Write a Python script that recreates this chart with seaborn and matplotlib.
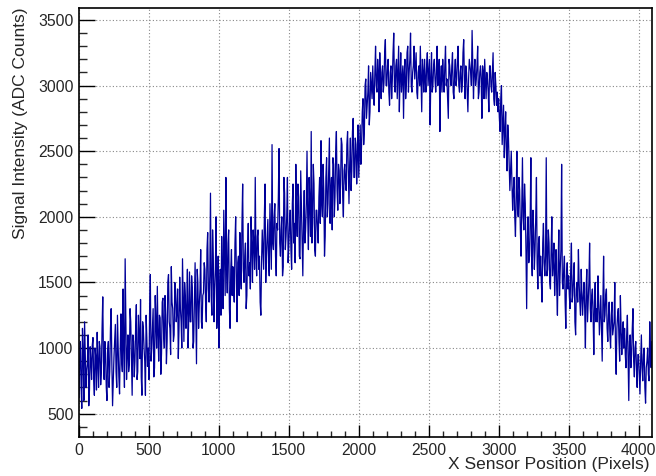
import numpy as np
import pandas as pd
import matplotlib
matplotlib.use("Agg")
import matplotlib.pyplot as plt
from matplotlib.ticker import MultipleLocator
import seaborn as sns

# sensor positions: readings every 10 pixels, plus the ones halfway between
positions = list(range(0, 4100, 10))
positions_mid = list(range(5, 4100, 10))

# ADC counts, 10 readings per row (100 pixels)
counts = [
    620, 1050, 540, 980, 1200, 700, 880, 560, 1010, 760,
    1080, 640, 930, 1120, 700, 1010, 820, 1390, 760, 960,
    600, 1050, 820, 1300, 560, 930, 1180, 700, 1020, 650,
    1260, 820, 1000, 1680, 760, 1100, 880, 1200, 640, 1050,
    900, 1330, 820, 1100, 1370, 640, 1150, 900, 1250, 860,
    760, 1560, 1000, 1300, 850, 1180, 1470, 900, 1230, 960,
    1380, 1000, 1250, 1050, 1560, 1150, 1620, 1300, 1100, 1450,
    1280, 920, 1540, 1200, 1680, 1050, 1400, 1300, 1000, 1580,
    1200, 1460, 1050, 1650, 880, 1500, 1330, 1750, 1150, 1420,
    1600, 1200, 1880, 1350, 2180, 1250, 1700, 1450, 2000, 1300,
    1000, 1600, 1850, 1300, 1700, 2300, 1420, 1900, 1150, 1750,
    1620, 1350, 2000, 1200, 1700, 1880, 1450, 2250, 1500, 1800,
    1400, 1950, 1650, 2000, 1500, 1800, 2300, 1550, 1900, 1700,
    1250, 1900, 1600, 2250, 1700, 1980, 1550, 1850, 2550, 1750,
    2100, 1550, 1900, 2520, 1700, 2000, 1620, 2180, 1850, 2300,
    1780, 2050, 1600, 2250, 1950, 2400, 1850, 2150, 1680, 2080,
    1550, 2200, 1900, 2500, 1750, 2100, 2650, 1950, 2250, 1700,
    2050, 1800, 2300, 2580, 2000, 2200, 1850, 2450, 2100, 2600,
    2200, 1900, 2400, 2150, 2650, 2050, 2350, 2250, 2550, 2000,
    2400, 2200, 2650, 2100, 2600, 2350, 2750, 2300, 2550, 2450,
    2300, 2700, 2550, 2900, 2650, 3050, 2850, 3150, 2800, 3000,
    3150, 2850, 3300, 2950, 3100, 3250, 2900, 3150, 3020, 3350,
    3000, 3200, 2850, 3150, 3050, 3400, 2950, 3200, 3100, 2800,
    3250, 3050, 2750, 3200, 3000, 3300, 3100, 3400, 2950, 3150,
    3050, 3250, 2900, 3150, 3300, 2800, 3100, 3200, 2950, 3250,
    3100, 2700, 3250, 3000, 3200, 2950, 3300, 3050, 2650, 3150,
    3200, 2950, 3300, 3050, 2750, 3150, 3000, 3250, 2900, 3200,
    3050, 3300, 2950, 3150, 3000, 3350, 2900, 3100, 2800, 3200,
    3100, 3420, 2900, 3200, 3050, 3300, 2950, 3150, 2750, 3100,
    3200, 2900, 3050, 2800, 3150, 2950, 3250, 2850, 3000, 2950,
    2900, 2650, 3000, 2700, 2450, 2800, 2350, 2600, 2200, 2500,
    2050, 2300, 1850, 2500, 2000, 2200, 1700, 2450, 1900, 2100,
    1300, 2000, 1700, 2450, 1550, 1900, 1750, 2300, 1450, 1850,
    1700, 1350, 1950, 1550, 2450, 1600, 1800, 1450, 2000, 1650,
    1400, 1750, 1250, 1900, 1600, 2400, 1450, 1700, 1150, 1650,
    1550, 1300, 1800, 1400, 1650, 1100, 1500, 1750, 1350, 1600,
    1250, 1500, 1000, 1600, 1350, 1800, 1200, 1450, 950, 1500,
    1300, 1550, 1100, 1400, 900, 1700, 1250, 1450, 1050, 1350,
    1000, 1350, 1150, 1500, 800, 1250, 1050, 1400, 950, 1200,
    1150, 850, 1250, 600, 1100, 950, 1300, 780, 1050, 700,
    950, 650, 1100, 750, 1000, 580, 900, 800, 1200, 850,
]

counts_mid = [
    900, 720, 1150, 600, 950, 830, 1100, 680, 900, 1020,
    760, 1000, 680, 880, 1050, 720, 1150, 900, 1050, 700,
    980, 700, 1150, 880, 760, 1060, 820, 1250, 780, 1000,
    900, 1450, 700, 1200, 950, 820, 1300, 940, 1100, 780,
    1150, 760, 1250, 920, 780, 1200, 1000, 640, 1080, 1000,
    1300, 900, 1150, 780, 1400, 1000, 1100, 1250, 800, 1350,
    1100, 1400, 880, 1500, 1200, 950, 1350, 1050, 1500, 1200,
    1450, 1150, 1300, 1000, 1350, 1500, 1150, 1600, 1250, 1200,
    1550, 1000, 1350, 1250, 1600, 1150, 1450, 1200, 1400, 1650,
    1350, 1750, 1450, 1550, 1400, 1900, 1200, 1600, 1150, 1700,
    1450, 1250, 1550, 2050, 1400, 1600, 1800, 1300, 1600, 1400,
    1450, 1800, 1550, 1650, 1400, 1550, 1950, 1600, 1700, 1300,
    1750, 1550, 1450, 1800, 1900, 1600, 1700, 1850, 1600, 1350,
    1650, 1750, 2000, 1500, 1850, 1650, 2100, 1600, 1800, 2000,
    1700, 1950, 2150, 1800, 1900, 1550, 2300, 1750, 2000, 1650,
    1950, 1750, 2100, 1800, 1650, 2000, 2250, 1700, 2350, 1850,
    1950, 1800, 2100, 2000, 2300, 1850, 1800, 2400, 1750, 2050,
    1900, 2150, 1950, 2100, 2400, 1700, 2300, 2000, 2350, 1950,
    2300, 2450, 2000, 2500, 2200, 2400, 2100, 2600, 2150, 2350,
    2250, 2550, 2350, 2400, 2200, 2650, 2300, 2600, 2250, 2700,
    2500, 2400, 2800, 2550, 3000, 2750, 2950, 2700, 3100, 2900,
    2950, 3100, 3000, 3200, 2800, 3050, 3100, 2950, 3250, 3000,
    3150, 2950, 3100, 2900, 3250, 3000, 3150, 2900, 3300, 3050,
    2950, 3150, 3100, 2900, 3250, 2950, 3200, 3000, 3100, 3300,
    3150, 2950, 3100, 3000, 3050, 3200, 2950, 3050, 3150, 3000,
    3200, 3050, 2950, 3150, 3050, 3100, 3000, 3200, 3050, 2950,
    3050, 3150, 3000, 2900, 3200, 3050, 3150, 2950, 3100, 3000,
    3200, 3000, 3100, 2950, 3250, 3050, 3150, 2950, 3050, 3150,
    3000, 3150, 3100, 3000, 3150, 2900, 3100, 3050, 3150, 2900,
    3050, 3100, 2950, 3150, 3000, 3100, 2900, 3100, 2850, 2800,
    2750, 2900, 2550, 2850, 2650, 2500, 2700, 2400, 2350, 2250,
    2200, 2000, 2150, 2050, 2300, 1900, 2100, 2000, 2250, 1750,
    1850, 1650, 1950, 1700, 2050, 1600, 2000, 1650, 1800, 1550,
    1500, 1800, 1650, 1700, 1550, 1900, 1500, 1750, 1550, 1800,
    1600, 1450, 1650, 1400, 1750, 1500, 1600, 1350, 1550, 1450,
    1400, 1600, 1350, 1550, 1200, 1450, 1350, 1500, 1250, 1400,
    1400, 1300, 1450, 1200, 1500, 1300, 1400, 1250, 1350, 1200,
    1200, 1350, 1250, 1150, 1350, 1200, 1400, 1150, 1250, 1100,
    1250, 1100, 1200, 1000, 1150, 1300, 900, 1150, 1100, 1000,
    950, 1100, 900, 1050, 850, 1150, 900, 1000, 850, 950,
    800, 900, 850, 950, 700, 850, 1000, 750, 950, 1050,
]

df = pd.DataFrame({"pos": positions + positions_mid,
                   "adc": counts + counts_mid})
df = df.sort_values("pos").reset_index(drop=True)

sns.set_style("white")
plt.rcParams["font.family"] = ["Liberation Sans", "DejaVu Sans"]

fig = plt.figure(figsize=(6.56, 4.76), dpi=100)
ax = fig.add_axes([0.1204, 0.0819, 0.8735, 0.9013])

sns.lineplot(data=df, x="pos", y="adc", color="#000099", linewidth=0.9,
             estimator=None, sort=False, ax=ax)

ax.set_xlim(0, 4096)
ax.set_ylim(322, 3591)

ax.xaxis.set_major_locator(MultipleLocator(500))
ax.xaxis.set_minor_locator(MultipleLocator(100))
ax.yaxis.set_major_locator(MultipleLocator(500))
ax.yaxis.set_minor_locator(MultipleLocator(100))

ax.tick_params(axis="x", which="major", direction="in", length=8.5, width=1,
               labelsize=11.3, pad=4, color="black", bottom=True)
ax.tick_params(axis="x", which="minor", direction="in", length=4.5, width=1,
               bottom=True)
ax.tick_params(axis="y", which="major", direction="in", length=11.5, width=1,
               labelsize=11.3, pad=4, color="black", left=True)
ax.tick_params(axis="y", which="minor", direction="in", length=6, width=1,
               left=True)

ax.grid(True, which="major", linestyle=(0, (1, 2)), color="#888888",
        linewidth=0.8)
ax.set_axisbelow(True)

for side in ["left", "bottom", "top", "right"]:
    ax.spines[side].set_visible(True)
    ax.spines[side].set_color("black")
    ax.spines[side].set_linewidth(1.2)

ax.set_xlabel("X Sensor Position (Pixels)", fontsize=12.5, loc="right")
ax.xaxis.set_label_coords(0.9965, -0.047)
ax.xaxis.label.set_va("top")
ax.set_ylabel("Signal Intensity (ADC Counts)", fontsize=12.5, loc="top")
ax.yaxis.set_label_coords(-0.089, 1.0)

fig.savefig("out.png", dpi=100)
